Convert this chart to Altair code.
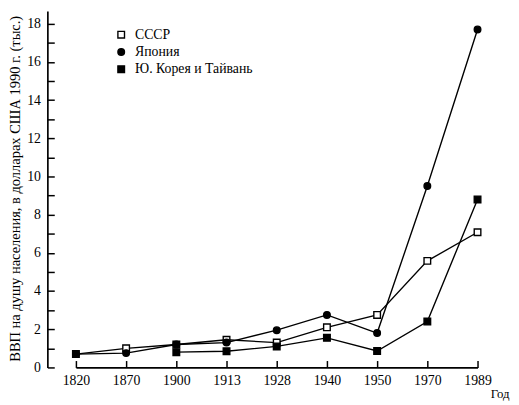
import altair as alt
import pandas as pd

years = [1820, 1870, 1900, 1913, 1928, 1940, 1950, 1970, 1989]
series_names = ["СССР", "Япония", "Ю. Корея и Тайвань"]
ussr = [0.7, 1.0, 1.2, 1.45, 1.3, 2.1, 2.75, 5.58, 7.08]
japan = [0.7, 0.75, 1.2, 1.3, 1.95, 2.75, 1.8, 9.5, 17.7]
korea = [None, None, 0.8, 0.85, 1.1, 1.55, 0.86, 2.4, 8.8]

y_title = "ВВП на душу населения, в долларах США 1990 г. (тыс.)"
x_title = "Год"

rows = []
for name, vals in zip(series_names, [ussr, japan, korea]):
    for yr, v in zip(years, vals):
        if v is not None:
            rows.append({"year": yr, "value": v, "series": name})
df = pd.DataFrame(rows)

FONT = "'Liberation Serif', 'Times New Roman', 'DejaVu Serif', serif"
W, H = 447, 362

x_scale = alt.Scale(type="point", range=[29, 437], padding=0)
y_scale = alt.Scale(domain=[0, 18.66], nice=False, zero=True)

x_axis_lab = alt.Axis(orient="bottom", ticks=False, domain=True, domainColor="black",
                      domainWidth=1.7, labelFont=FONT, labelFontSize=14, labelColor="black",
                      labelPadding=6, labelAngle=0, grid=False, title=x_title,
                      titleX=450, titleY=27, titleAlign="left", titleBaseline="middle",
                      titleFont=FONT, titleFontSize=13, titleFontWeight="normal",
                      titleColor="black")
y_axis_lab = alt.Axis(orient="left", values=list(range(0, 19, 2)), ticks=False,
                      domain=True, domainColor="black", domainWidth=1.7,
                      labelFont=FONT, labelFontSize=14, labelColor="black",
                      labelPadding=7, grid=False, labelOverlap=False, title=y_title,
                      titleX=-28, titleY=180, titleAngle=270, titleAlign="center",
                      titleBaseline="alphabetic", titleFont=FONT, titleFontSize=14.7,
                      titleFontWeight="normal", titleColor="black")

x_axis_tick = alt.Axis(orient="top", offset=-H, labels=False, domain=False, ticks=True,
                       tickSize=7, tickWidth=1.5, tickColor="black", title=None, grid=False)
y_axis_tick = alt.Axis(orient="right", offset=-W, values=list(range(0, 19)), labels=False,
                       domain=False, ticks=True, tickSize=7, tickWidth=1.5,
                       tickColor="black", title=None, grid=False)

legend = alt.Legend(orient="none", legendX=68, legendY=17, title=None, labelFont=FONT,
                    labelFontSize=14, labelColor="black", symbolSize=45,
                    symbolStrokeWidth=1.4, rowPadding=3.5,
                    labelOffset=7, padding=0)

base = alt.Chart(df)

lines = base.mark_line(color="black", strokeWidth=1.4).encode(
    x=alt.X("year:O", scale=x_scale, axis=x_axis_lab),
    y=alt.Y("value:Q", scale=y_scale, axis=y_axis_lab),
    detail="series:N",
)

points = base.mark_point(filled=True, size=45, strokeWidth=1.4, opacity=1).encode(
    x=alt.X("year:O", scale=x_scale, axis=x_axis_tick),
    y=alt.Y("value:Q", scale=y_scale, axis=y_axis_tick),
    shape=alt.Shape("series:N", scale=alt.Scale(domain=series_names,
                                                range=["square", "circle", "square"]),
                    legend=legend),
    fill=alt.Fill("series:N", scale=alt.Scale(domain=series_names,
                                              range=["white", "black", "black"]),
                  legend=legend),
    stroke=alt.Stroke("series:N", scale=alt.Scale(domain=series_names,
                                                  range=["black", "black", "black"]),
                      legend=legend),
)

chart = alt.layer(lines, points).resolve_axis(x="independent", y="independent").properties(
    width=W, height=H,
    padding={"left": 40, "top": 0, "right": 24, "bottom": 35},
    autosize=alt.AutoSizeParams(type="none"),
).configure_view(stroke=None)

chart.save("out.html", embed_options={"renderer": "svg", "actions": False})
